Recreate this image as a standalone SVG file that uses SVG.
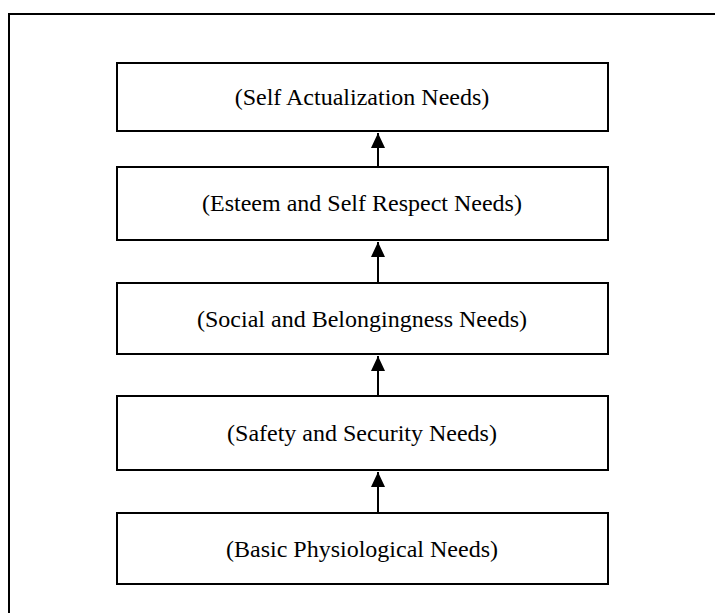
<svg xmlns="http://www.w3.org/2000/svg" width="715" height="613" viewBox="0 0 715 613">
<style>
.box{fill:#fff;stroke:#000;stroke-width:2}
.lbl{font-family:"Liberation Serif","Times New Roman",serif;font-size:24px;fill:#000;text-anchor:middle}
.conn{stroke:#000;stroke-width:2;fill:none;marker-end:url(#ah)}
</style>
<defs>
<marker id="ah" markerUnits="userSpaceOnUse" markerWidth="16" markerHeight="16" viewBox="0 0 16 16" refX="15" refY="8" orient="auto">
<path d="M0,1 L15,8 L0,15 Z" fill="#000"/>
</marker>
</defs>
<rect width="715" height="613" fill="#fff"/>
<path d="M9,613 L9,14 L715,14" fill="none" stroke="#000" stroke-width="2"/>
<g id="connectors">
<line class="conn" x1="378" y1="167" x2="378" y2="133"/>
<line class="conn" x1="378" y1="283" x2="378" y2="242"/>
<line class="conn" x1="378" y1="396" x2="378" y2="356"/>
<line class="conn" x1="378" y1="513" x2="378" y2="472"/>
</g>
<g id="n1"><rect class="box" x="117" y="63" width="491" height="68"/><text class="lbl" x="362" y="105">(Self Actualization Needs)</text></g>
<g id="n2"><rect class="box" x="117" y="167" width="491" height="73"/><text class="lbl" x="362" y="211">(Esteem and Self Respect Needs)</text></g>
<g id="n3"><rect class="box" x="117" y="283" width="491" height="71"/><text class="lbl" x="362" y="327">(Social and Belongingness Needs)</text></g>
<g id="n4"><rect class="box" x="117" y="396" width="491" height="74"/><text class="lbl" x="362" y="441">(Safety and Security Needs)</text></g>
<g id="n5"><rect class="box" x="117" y="513" width="491" height="71"/><text class="lbl" x="362" y="557">(Basic Physiological Needs)</text></g>
</svg>
